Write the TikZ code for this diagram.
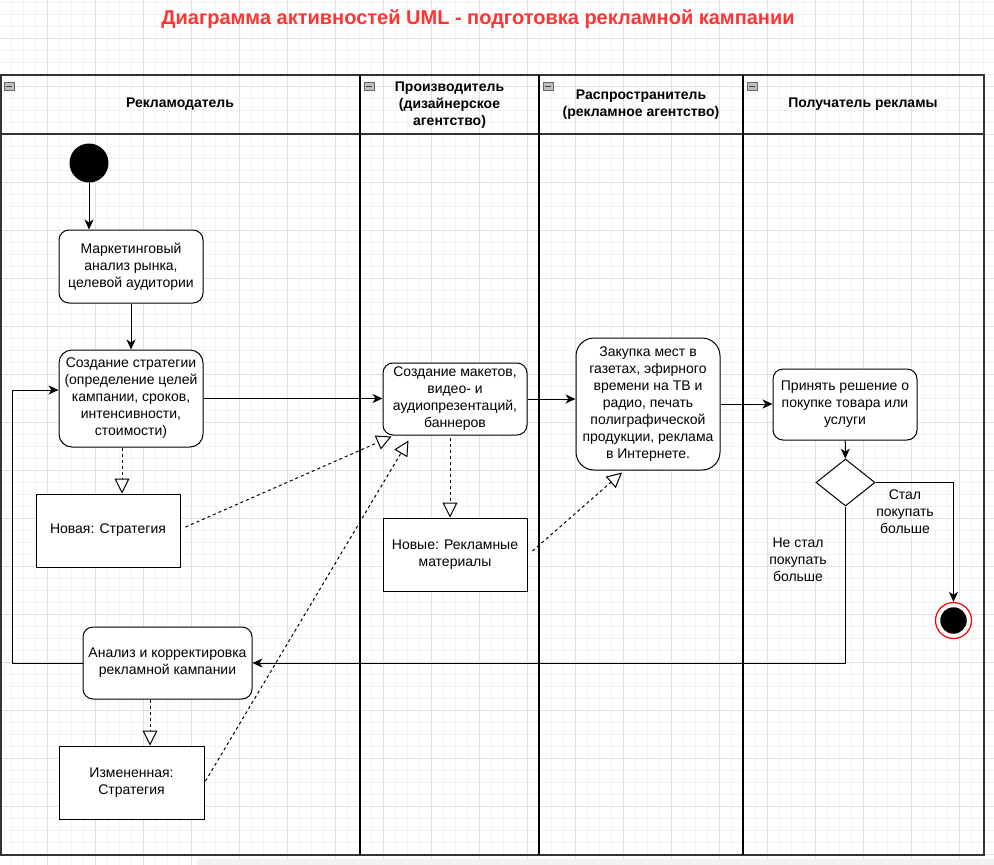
\documentclass[tikz,border=0pt]{standalone}
\usepackage{fontspec}
\setmainfont{Liberation Sans}
\usetikzlibrary{arrows.meta,shapes.geometric}

\definecolor{titlered}{HTML}{FF3333}
\definecolor{gridminor}{HTML}{F3F3F3}
\definecolor{gridmajor}{HTML}{E0E0E0}

\tikzset{
  act/.style={draw, fill=white, line width=1pt, rounded corners=10pt, align=center, inner sep=0pt, minimum width=144pt},
  obj/.style={draw, fill=white, line width=1pt, align=center, inner sep=0pt, minimum width=144pt, minimum height=73pt},
  flow/.style={line width=1pt, -{Stealth[length=10pt,width=9pt,inset=3pt]}},
  objflow/.style={line width=1pt, dash pattern=on 3pt off 3pt, -{Triangle[length=15pt,width=15pt,fill=white,line width=1pt]}},
  pool/.style={line width=2pt, draw=black!80},
  lane/.style={line width=1.2pt},
  lanetitle/.style={font=\fontsize{14}{17}\selectfont\bfseries, align=center},
  guard/.style={align=center}
}

\begin{document}
\begin{tikzpicture}[x=1pt,y=-1pt,font=\fontsize{14}{17}\selectfont]
  \useasboundingbox (0,0) rectangle (994,865);
  \fill[white] (0,0) rectangle (994,865);

  % background grid
  \foreach \gx in {-1,11,...,995} \draw[gridminor, line width=0.8pt] (\gx,0) -- (\gx,865);
  \foreach \gy in {2,14,...,866} \draw[gridminor, line width=0.8pt] (0,\gy) -- (994,\gy);
  \foreach \gx in {-1,47,...,995} \draw[gridmajor, line width=0.8pt] (\gx,0) -- (\gx,865);
  \foreach \gy in {38,86,...,866} \draw[gridmajor, line width=0.8pt] (0,\gy) -- (994,\gy);
  \fill[black!5] (197,859) rectangle (994,865);

  \node[font=\fontsize{20}{24}\selectfont\bfseries, text=titlered] (title) at (478,19)
    {Диаграмма активностей UML - подготовка рекламной кампании};

  % pool with four lanes
  \draw[pool] (0.5,75) rectangle (983.5,855);
  \draw[pool] (0.5,134) -- (983.5,134);
  \foreach \lx in {360,539,743} \draw[lane] (\lx,75) -- (\lx,855);
  \foreach \lx in {0,360,539,743} {
    \draw[fill=black!25, draw=black!60, line width=0.8pt] (\lx+4,82) rectangle +(10,8);
    \draw[black!75, line width=0.8pt] (\lx+6,86) -- +(6,0);
  }

  \node[lanetitle] (laneA) at (180,104) {Рекламодатель};
  \node[lanetitle] (laneB) at (449.5,105) {Производитель\\(дизайнерское\\агентство)};
  \node[lanetitle] (laneC) at (641,105) {Распространитель\\(рекламное агентство)};
  \node[lanetitle] (laneD) at (863,104) {Получатель рекламы};

  % activities
  \node[circle, fill=black, minimum size=39pt, inner sep=0pt] (start) at (89,163) {};
  \node[act, minimum height=73pt] (market) at (131,266.5)
    {Маркетинговый\\анализ рынка,\\целевой аудитории};
  \node[act, minimum height=97pt, rounded corners=13pt] (strategy) at (131,398.5)
    {Создание стратегии\\(определение целей\\кампании, сроков,\\интенсивности,\\стоимости)};
  \node[act, minimum height=72pt] (layouts) at (455,399)
    {Создание макетов,\\видео- и\\аудиопрезентаций,\\баннеров};
  \node[act, minimum height=132pt, rounded corners=18pt] (placing) at (648,404)
    {Закупка мест в\\газетах, эфирного\\времени на ТВ и\\радио, печать\\полиграфической\\продукции, реклама\\в Интернете.};
  \node[act, minimum height=71pt] (decide) at (845,404.5)
    {Принять решение о\\покупке товара или\\услуги};
  \node[diamond, draw, fill=white, line width=1pt, minimum width=59pt, minimum height=47pt, inner sep=0pt] (dec) at (845.5,482.5) {};
  \node[circle, draw=red, line width=1.2pt, fill=white, minimum size=36pt, inner sep=0pt] (end) at (953.5,620.5) {};
  \node[circle, fill=black, minimum size=26.5pt, inner sep=0pt] (endcore) at (end) {};
  \node[act, minimum width=169pt, minimum height=72pt] (review) at (167.5,663)
    {Анализ и корректировка\\рекламной кампании};

  % objects
  \node[obj] (newstrat) at (108,530.5) {Новая: Стратегия};
  \node[obj] (materials) at (455,554.5) {Новые: Рекламные\\материалы};
  \node[obj, minimum width=145pt] (changed) at (131.5,782.5) {Измененная:\\Стратегия};

  % guards
  \node[guard] (yes) at (905,512) {Стал\\покупать\\больше};
  \node[guard] (no) at (798,560) {Не стал\\покупать\\больше};

  % control flow
  \coordinate (back) at (12,390);
  \draw[flow] (start.south) -- (start.south |- market.north);
  \draw[flow] (market) -- (strategy);
  \draw[flow] (strategy.east) -- (strategy.east -| layouts.west);
  \draw[flow] (layouts.east) -- (layouts.east -| placing.west);
  \draw[flow] (placing.east) -- (placing.east -| decide.west);
  \draw[flow] (decide) -- (dec);
  \draw[flow] (dec.east) -| (end.north);
  \draw[flow] (dec.south) |- (review.east);
  \draw[flow] (review.west) -| (back) -- (back -| strategy.west);

  % object flow
  \draw[objflow] ([xshift=-9pt]strategy.south) -- ([xshift=14pt]newstrat.north);
  \draw[objflow] ([xshift=5pt,yshift=3.5pt]newstrat.east) -- ([xshift=9pt,yshift=-1pt]layouts.south west);
  \draw[objflow] ([xshift=-5pt,yshift=-2pt]layouts.south) -- ([xshift=-5pt]materials.north);
  \draw[objflow] ([xshift=5pt,yshift=3.5pt]materials.east) -- ([xshift=-26pt,yshift=-2pt]placing.south);
  \draw[objflow] ([xshift=-17.5pt]review.south) -- ([xshift=18.5pt]changed.north);
  \draw[objflow] ([xshift=1pt,yshift=1.5pt]changed.east) -- ([xshift=26pt,yshift=-5pt]layouts.south west);
\end{tikzpicture}
\end{document}
